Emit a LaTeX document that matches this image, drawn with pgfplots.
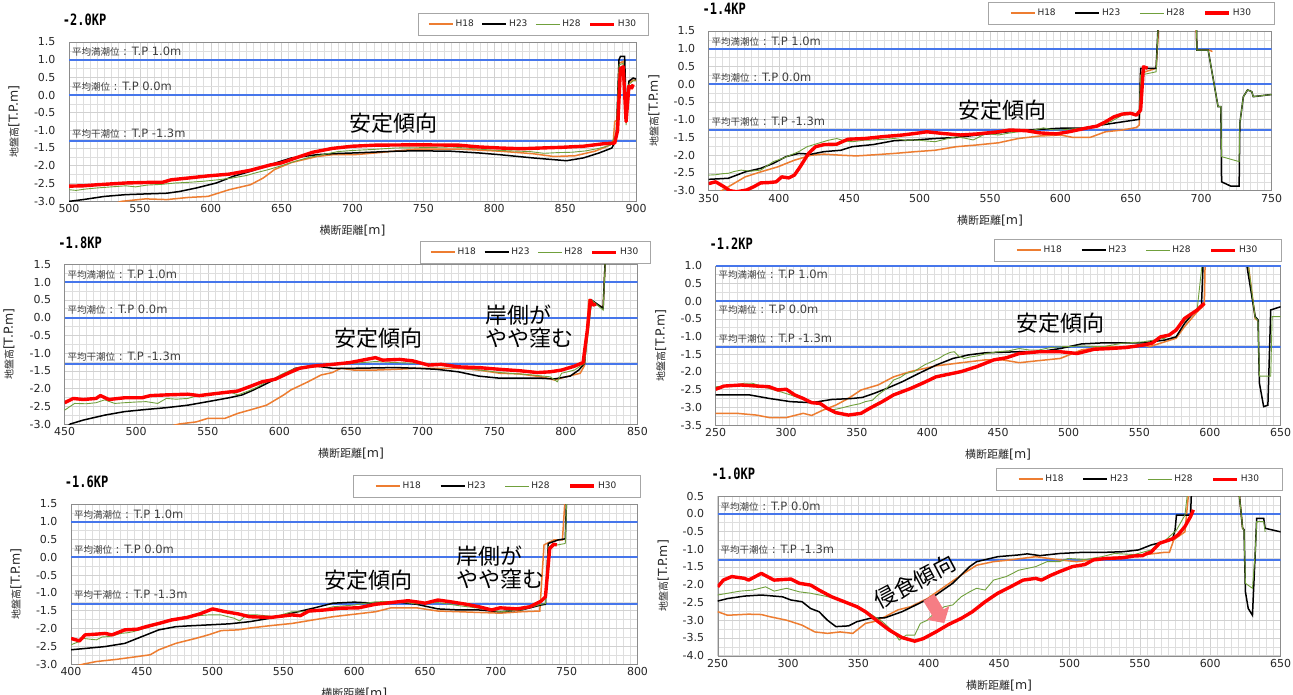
\documentclass[border=0pt]{standalone}
\usepackage{fontspec}
\setmainfont{DejaVu Sans}
\setmonofont{DejaVu Sans Mono}
\newfontfamily\jp{Noto Sans CJK JP}
\usepackage{pgfplots}
\pgfplotsset{compat=1.18}
\usetikzlibrary{arrows.meta}

\newcommand\fs[1]{\fontsize{#1}{#1}\selectfont}
\definecolor{cH18}{RGB}{237,125,49}
\definecolor{cH28}{RGB}{112,160,60}
\definecolor{cH30}{RGB}{255,0,0}
\definecolor{tide}{RGB}{70,118,235}

\pgfplotsset{
  h18/.style={cH18, line width=1.5pt},
  h23/.style={black, line width=1.5pt},
  h28/.style={cH28, line width=0.9pt},
  h30/.style={cH30, line width=3.4pt, line join=round},
  tideline/.style={tide, line width=2pt, forget plot},
  legsep/.style 2 args={legend style={inner xsep=#2, /tikz/every even column/.append style={column sep=#1}}},
  kp/.style={
    scale only axis, anchor=south west,
    axis line style={draw=black!45},
    major tick length=0pt, minor tick length=0pt,
    grid=both,
    major grid style={draw=black!18, line width=0.5pt},
    minor grid style={draw=black!13, line width=0.5pt},
    xtick distance=50, ytick distance=0.5,
    minor x tick num=9, minor y tick num=1,
    /pgf/number format/assume math mode=true,
    tick label style={font=\fs{11}, text=black!85},
    yticklabel style={xshift=-10pt, /pgf/number format/fixed, /pgf/number format/fixed zerofill, /pgf/number format/precision=1},
    xticklabel style={/pgf/number format/1000 sep={}},
    xlabel={{\jp\fs{11}横断距離}{\fs{12.5}[m]}}, ylabel={{\jp\fs{10}地盤高}{\fs{12.5}[T.P.m]}},
    every axis x label/.style={at={(axis description cs:0.5,-0.185)}, anchor=center, text=black!85},
    every axis y label/.style={at={(axis description cs:-0.097,0.5)}, rotate=90, anchor=center, text=black!85},
    title style={at={(axis description cs:-0.017,1.10)}, anchor=west, yscale=1.3, font=\ttfamily\bfseries\fs{12}},
    legend columns=4, legend cell align=left,
    legend image code/.code={\draw[##1] (0pt,0pt) -- (24pt,0pt);},
    legend style={anchor=south east, draw=black!35, fill=white, font=\fs{9}, text=black!85, inner ysep=4.5pt},
  },
}
\newcommand\tidelabel[3]{\node[anchor=west, inner sep=0pt, text=black!75] at (axis cs:#1,#2) {#3};}
\newcommand\tl[2]{{\jp\fs{9.5}#1}{\fs{11.5} : #2}}
\newcommand\note[3]{\node[font=\jp\fs{22}, inner sep=0pt] at (axis cs:#1,#2) {#3};}

\begin{document}
\begin{tikzpicture}
\path[use as bounding box, fill=white] (0pt,0pt) rectangle (1293pt,-695pt);

% ---------------- -2.0KP ----------------
\begin{axis}[kp, at={(69pt,-201pt)}, width=567pt, height=159pt,
  xmin=500, xmax=900, ymin=-3, ymax=1.5, title={-2.0KP},
  legend style={at={(1.021,1.044)}}, legsep={6pt}{9.5pt}]
\addplot[tideline] coordinates {(500,1)(900,1)};
\addplot[tideline] coordinates {(500,0)(900,0)};
\addplot[tideline] coordinates {(500,-1.3)(900,-1.3)};
\addplot[h18] coordinates {(500,-3.3)(530,-3.1)(537,-3.01)(554,-2.94)(569,-2.96)(584,-2.90)(598,-2.87)(613,-2.68)(628,-2.54)(637,-2.35)(645,-2.11)(657,-1.91)(675,-1.74)(686,-1.69)(701,-1.69)(716,-1.64)(745,-1.53)(775,-1.53)(804,-1.59)(827,-1.66)(842,-1.74)(857,-1.72)(871,-1.59)(880,-1.45)(884,-1.3)(885,-0.75)(887,-0.7)(888,0.9)(891,0.95)(893,-0.7)(895,0.35)(898,0.42)(900,0.42)};
\addlegendentry{H18}
\addplot[h23] coordinates {(500,-3.01)(510,-2.96)(525,-2.87)(540,-2.82)(554,-2.80)(569,-2.78)(578,-2.73)(590,-2.63)(604,-2.49)(616,-2.30)(628,-2.16)(642,-1.97)(657,-1.78)(675,-1.69)(686,-1.66)(701,-1.64)(731,-1.59)(745,-1.58)(769,-1.59)(789,-1.64)(804,-1.69)(827,-1.78)(842,-1.83)(851,-1.86)(863,-1.78)(874,-1.64)(883,-1.50)(886,-1.26)(888,1.0)(889,1.09)(892,1.09)(893,-0.41)(895,0.39)(898,0.48)(900,0.45)};
\addlegendentry{H23}
\addplot[h28] coordinates {(500,-2.68)(505,-2.70)(512,-2.66)(520,-2.63)(530,-2.60)(540,-2.57)(547,-2.60)(555,-2.55)(565,-2.53)(575,-2.49)(585,-2.47)(595,-2.44)(605,-2.40)(615,-2.35)(625,-2.28)(632,-2.20)(640,-2.12)(650,-2.0)(660,-1.87)(670,-1.76)(680,-1.68)(690,-1.60)(700,-1.57)(715,-1.54)(730,-1.50)(750,-1.49)(770,-1.47)(780,-1.50)(795,-1.55)(810,-1.58)(825,-1.60)(835,-1.65)(845,-1.63)(855,-1.62)(865,-1.58)(875,-1.50)(882,-1.42)(886,-1.1)(888,0.85)(891,0.9)(893,-0.85)(895,0.3)(898,0.4)(900,0.4)};
\addlegendentry{H28}
\addplot[h30] coordinates {(500,-2.58)(510,-2.57)(520,-2.54)(540,-2.49)(560,-2.47)(566,-2.47)(572,-2.40)(584,-2.35)(598,-2.29)(613,-2.24)(628,-2.13)(642,-1.98)(650,-1.92)(660,-1.78)(672,-1.62)(686,-1.51)(700,-1.45)(716,-1.42)(745,-1.41)(775,-1.42)(789,-1.47)(804,-1.50)(819,-1.52)(833,-1.50)(848,-1.48)(863,-1.45)(877,-1.38)(885,-1.36)(887,-1.0)(889,0.75)(891,0.8)(893,-0.75)(895,0.25)(897,0.2)(898,0.3)};
\addlegendentry{H30}
\tidelabel{502}{1.22}{\tl{平均満潮位}{T.P 1.0m}}
\tidelabel{502}{0.23}{\tl{平均潮位}{T.P 0.0m}}
\tidelabel{502}{-1.08}{\tl{平均干潮位}{T.P -1.3m}}
\note{729}{-0.79}{安定傾向}
\end{axis}

% ---------------- -1.4KP ----------------
\begin{axis}[kp, at={(708.6pt,-190.7pt)}, width=562.9pt, height=159.7pt,
  xmin=350, xmax=750, ymin=-3, ymax=1.5, title={-1.4KP},
  legend style={at={(1.006,1.044)}}, legsep={17pt}{21.5pt}]
\addplot[tideline] coordinates {(350,1)(750,1)};
\addplot[tideline] coordinates {(350,0)(750,0)};
\addplot[tideline] coordinates {(350,-1.3)(750,-1.3)};
\addplot[h18] coordinates {(350,-3.3)(358,-3.03)(364,-2.89)(376,-2.61)(387,-2.47)(399,-2.33)(411,-2.14)(423,-2.00)(432,-1.97)(444,-2.00)(455,-2.02)(467,-1.99)(482,-1.95)(497,-1.90)(511,-1.86)(526,-1.76)(541,-1.71)(556,-1.65)(570,-1.53)(585,-1.46)(600,-1.43)(609,-1.50)(621,-1.50)(632,-1.34)(644,-1.29)(654,-1.22)(656,-1.15)(657,0.31)(668,0.45)(672,3)(695,3)(697,0.96)(706,0.96)(708,0.92)};
\addlegendentry{H18}
\addplot[h23] coordinates {(350,-2.68)(364,-2.65)(376,-2.47)(387,-2.37)(396,-2.23)(405,-2.04)(414,-1.95)(423,-1.97)(432,-1.90)(444,-1.86)(452,-1.76)(467,-1.70)(482,-1.59)(497,-1.57)(511,-1.53)(526,-1.50)(541,-1.43)(556,-1.37)(570,-1.31)(585,-1.27)(600,-1.24)(615,-1.24)(629,-1.15)(644,-1.06)(656,-0.99)(657,0.45)(668,0.45)(671,3)(696,3)(697,0.96)(705,0.96)(712,-0.63)(714,-0.63)(714.5,-2.75)(721,-2.87)(727,-2.87)(727.5,-1.10)(730,-0.35)(733,-0.16)(736,-0.21)(737,-0.35)(750,-0.29)};
\addlegendentry{H23}
\addplot[h28] coordinates {(350,-2.56)(355,-2.55)(360,-2.52)(364,-2.51)(368,-2.46)(373,-2.42)(380,-2.45)(387,-2.42)(396,-2.18)(402,-2.10)(408,-2.00)(414,-1.90)(420,-1.76)(425,-1.70)(429,-1.65)(435,-1.58)(441,-1.53)(447,-1.60)(452,-1.62)(460,-1.58)(467,-1.57)(475,-1.55)(482,-1.53)(490,-1.58)(497,-1.57)(505,-1.60)(511,-1.62)(518,-1.55)(526,-1.48)(532,-1.52)(538,-1.57)(544,-1.45)(547,-1.39)(556,-1.43)(563,-1.38)(570,-1.34)(580,-1.30)(588,-1.23)(594,-1.28)(600,-1.29)(608,-1.26)(615,-1.24)(622,-1.22)(629,-1.15)(636,-1.05)(644,-0.87)(650,-0.85)(656,-0.82)(657,0.26)(662,0.30)(668,0.35)(671,3)(696,3)(697,0.96)(705,0.96)(712,-0.63)(714,-0.63)(714.5,-2.04)(727,-2.18)(727.5,-1.10)(730,-0.35)(733,-0.16)(736,-0.21)(737,-0.35)(750,-0.29)};
\addlegendentry{H28}
\addplot[h30] coordinates {(350,-2.80)(355,-2.75)(361,-2.89)(365,-3.0)(370,-3.03)(377,-2.98)(382,-2.89)(387,-2.78)(393,-2.77)(398,-2.75)(402,-2.61)(407,-2.64)(411,-2.56)(415,-2.33)(421,-1.95)(426,-1.76)(432,-1.70)(441,-1.69)(449,-1.55)(461,-1.53)(473,-1.48)(488,-1.43)(500,-1.37)(505,-1.34)(517,-1.39)(529,-1.43)(541,-1.40)(556,-1.34)(564,-1.29)(576,-1.31)(585,-1.37)(597,-1.40)(606,-1.34)(618,-1.24)(626,-1.18)(632,-1.06)(638,-0.92)(644,-0.84)(650,-0.82)(654,-0.87)(657,-0.73)(659,0.49)(662,0.45)};
\addlegendentry{H30}
\tidelabel{352}{1.2}{\tl{平均満潮位}{T.P 1.0m}}
\tidelabel{352}{0.19}{\tl{平均潮位}{T.P 0.0m}}
\tidelabel{352}{-1.06}{\tl{平均干潮位}{T.P -1.3m}}
\note{558.6}{-0.73}{安定傾向}
\end{axis}

% ---------------- -1.8KP ----------------
\begin{axis}[kp, at={(64.6pt,-424pt)}, width=572.9pt, height=159.7pt,
  xmin=450, xmax=850, ymin=-3, ymax=1.5, title={-1.8KP},
  legend style={at={(1.0218,1.008)}}, legsep={6pt}{9.5pt}]
\addplot[tideline] coordinates {(450,1)(850,1)};
\addplot[tideline] coordinates {(450,0)(850,0)};
\addplot[tideline] coordinates {(450,-1.3)(850,-1.3)};
\addplot[h18] coordinates {(450,-3.5)(520,-3.1)(530,-3.0)(542,-2.94)(550,-2.84)(562,-2.84)(571,-2.70)(579,-2.61)(591,-2.47)(603,-2.18)(608,-2.04)(620,-1.81)(629,-1.62)(637,-1.55)(643,-1.43)(652,-1.48)(667,-1.48)(681,-1.46)(696,-1.43)(725,-1.43)(739,-1.48)(754,-1.57)(768,-1.59)(783,-1.67)(792,-1.76)(800,-1.67)(810,-1.57)(813,-1.35)(816,0.49)(820,0.40)(826,0.28)(829,3)};
\addlegendentry{H18}
\addplot[h23] coordinates {(450,-3.15)(454,-3.0)(463,-2.89)(478,-2.75)(492,-2.65)(507,-2.59)(521,-2.54)(536,-2.47)(550,-2.37)(565,-2.26)(574,-2.18)(582,-2.04)(591,-1.86)(603,-1.62)(611,-1.43)(626,-1.37)(637,-1.43)(652,-1.43)(681,-1.41)(696,-1.43)(710,-1.46)(725,-1.53)(739,-1.65)(754,-1.71)(768,-1.71)(783,-1.71)(792,-1.73)(803,-1.65)(809,-1.48)(813,-1.29)(815,-0.35)(818,0.49)(826,0.26)(829,3)};
\addlegendentry{H23}
\addplot[h28] coordinates {(450,-2.61)(457,-2.42)(465,-2.43)(472,-2.40)(478,-2.32)(485,-2.42)(492,-2.40)(500,-2.38)(507,-2.37)(515,-2.42)(521,-2.28)(528,-2.30)(536,-2.28)(543,-2.20)(550,-2.14)(558,-2.12)(565,-2.09)(571,-2.18)(579,-2.06)(585,-1.95)(591,-1.81)(597,-1.70)(603,-1.57)(608,-1.48)(614,-1.40)(625,-1.38)(637,-1.34)(652,-1.29)(667,-1.24)(681,-1.27)(696,-1.29)(710,-1.34)(725,-1.40)(740,-1.48)(754,-1.55)(777,-1.62)(789,-1.67)(794,-1.81)(797,-1.57)(806,-1.48)(813,-1.29)(816,-0.3)(818,0.49)(826,0.21)(829,3)};
\addlegendentry{H28}
\addplot[h30] coordinates {(450,-2.40)(456,-2.28)(463,-2.31)(472,-2.28)(475,-2.20)(481,-2.31)(492,-2.26)(504,-2.26)(510,-2.20)(521,-2.18)(536,-2.16)(544,-2.20)(556,-2.14)(571,-2.07)(579,-1.95)(588,-1.81)(597,-1.74)(606,-1.57)(614,-1.43)(623,-1.37)(637,-1.32)(649,-1.27)(658,-1.20)(667,-1.13)(672,-1.20)(684,-1.18)(693,-1.22)(704,-1.34)(713,-1.32)(725,-1.39)(739,-1.41)(754,-1.46)(768,-1.50)(780,-1.55)(789,-1.53)(797,-1.48)(806,-1.37)(812,-1.27)(815,-0.35)(817,0.49)(819,0.35)(821,0.38)};
\addlegendentry{H30}
\tidelabel{452}{1.22}{\tl{平均満潮位}{T.P 1.0m}}
\tidelabel{452}{0.21}{\tl{平均潮位}{T.P 0.0m}}
\tidelabel{452}{-1.10}{\tl{平均干潮位}{T.P -1.3m}}
\note{669.5}{-0.59}{安定傾向}
\node[anchor=west, align=left, inner sep=0pt, font=\jp\fontsize{22}{23.5}\selectfont] at (axis cs:743.6,-0.26) {岸側が\\やや窪む};
\end{axis}

% ---------------- -1.2KP ----------------
\begin{axis}[kp, at={(715.6pt,-425pt)}, width=565pt, height=159.3pt,
  xmin=250, xmax=650, ymin=-3.5, ymax=1.0, title={-1.2KP},
  legend style={at={(1.0007,1.0295)}}, legsep={17pt}{21.5pt},
  extra description/.code={\draw[tide, line width=2pt] (rel axis cs:0,1) -- (rel axis cs:1,1);}]
\addplot[tideline] coordinates {(250,0)(650,0)};
\addplot[tideline] coordinates {(250,-1.3)(650,-1.3)};
\addplot[h18] coordinates {(250,-3.17)(265,-3.17)(279,-3.22)(288,-3.29)(300,-3.29)(312,-3.17)(318,-3.23)(326,-3.08)(335,-2.94)(344,-2.75)(353,-2.51)(365,-2.37)(376,-2.14)(388,-1.99)(406,-1.83)(424,-1.74)(441,-1.66)(453,-1.66)(465,-1.74)(479,-1.68)(494,-1.62)(509,-1.38)(524,-1.29)(538,-1.29)(553,-1.24)(557,-1.29)(568,-1.15)(576,-1.05)(582,-0.72)(591,-0.30)(596,-0.11)(597,2)(624,2)(632,-0.49)(634,-0.55)};
\addlegendentry{H18}
\addplot[h23] coordinates {(250,-2.65)(274,-2.65)(288,-2.75)(303,-2.84)(318,-2.87)(332,-2.78)(347,-2.75)(354,-2.72)(362,-2.61)(371,-2.47)(382,-2.28)(394,-2.04)(406,-1.81)(418,-1.62)(429,-1.52)(441,-1.46)(465,-1.43)(479,-1.43)(494,-1.34)(509,-1.21)(524,-1.18)(553,-1.18)(568,-1.10)(576,-1.01)(582,-0.63)(588,-0.35)(594,-0.11)(596,2)(622,2)(632,-0.44)(634,-0.53)(635,-2.32)(638,-2.98)(641,-2.94)(643,-0.25)(650,-0.16)};
\addlegendentry{H23}
\addplot[h28] coordinates {(250,-2.42)(258,-2.40)(265,-2.37)(270,-2.32)(276,-2.32)(282,-2.40)(288,-2.47)(295,-2.55)(303,-2.65)(310,-2.75)(318,-2.84)(325,-2.95)(332,-3.08)(338,-3.03)(347,-2.94)(352,-2.90)(356,-2.84)(361,-2.80)(365,-2.65)(371,-2.47)(376,-2.23)(381,-2.15)(385,-2.04)(390,-2.0)(394,-1.90)(398,-1.80)(403,-1.71)(408,-1.62)(412,-1.52)(416,-1.45)(419,-1.43)(422,-1.55)(426,-1.62)(430,-1.58)(435,-1.55)(442,-1.48)(450,-1.43)(458,-1.40)(465,-1.34)(472,-1.38)(479,-1.38)(486,-1.32)(494,-1.29)(509,-1.27)(524,-1.29)(538,-1.19)(553,-1.15)(568,-1.05)(579,-0.68)(591,-0.21)(597,2)(624,2)(632,-0.47)(634,-0.55)(635,-2.12)(643,-2.12)(644,-0.44)(650,-0.44)};
\addlegendentry{H28}
\addplot[h30] coordinates {(250,-2.49)(256,-2.40)(268,-2.37)(279,-2.40)(288,-2.42)(294,-2.51)(300,-2.49)(306,-2.65)(312,-2.75)(318,-2.87)(324,-2.89)(329,-3.03)(335,-3.15)(344,-3.22)(353,-3.17)(359,-3.03)(368,-2.84)(376,-2.65)(388,-2.47)(397,-2.31)(406,-2.14)(412,-2.09)(424,-1.99)(435,-1.85)(447,-1.66)(456,-1.60)(465,-1.48)(479,-1.43)(494,-1.43)(506,-1.48)(518,-1.36)(529,-1.34)(541,-1.31)(553,-1.24)(559,-1.19)(565,-1.01)(571,-0.96)(576,-0.82)(582,-0.49)(591,-0.25)(596,-0.06)};
\addlegendentry{H30}
\tidelabel{252}{0.74}{\tl{平均満潮位}{T.P 1.0m}}
\tidelabel{252}{-0.25}{\tl{平均潮位}{T.P 0.0m}}
\tidelabel{252}{-1.05}{\tl{平均干潮位}{T.P -1.3m}}
\note{494}{-0.63}{安定傾向}
\end{axis}

% ---------------- -1.6KP ----------------
\begin{axis}[kp, at={(71pt,-664pt)}, width=566.5pt, height=160pt,
  xmin=400, xmax=800, ymin=-3, ymax=1.5, title={-1.6KP},
  legend style={at={(1.0044,1.044)}}, legsep={17pt}{21.5pt}]
\addplot[tideline] coordinates {(400,1)(800,1)};
\addplot[tideline] coordinates {(400,0)(800,0)};
\addplot[tideline] coordinates {(400,-1.3)(800,-1.3)};
\addplot[h18] coordinates {(400,-3.1)(409,-3.0)(418,-2.93)(432,-2.87)(447,-2.79)(456,-2.74)(462,-2.60)(474,-2.42)(488,-2.28)(497,-2.18)(506,-2.06)(518,-2.04)(526,-1.99)(541,-1.92)(556,-1.86)(571,-1.76)(585,-1.67)(600,-1.60)(615,-1.53)(626,-1.42)(644,-1.42)(659,-1.51)(674,-1.53)(688,-1.55)(703,-1.57)(718,-1.53)(731,-1.51)(734,0.35)(741,0.49)(747,0.49)(751,3)};
\addlegendentry{H18}
\addplot[h23] coordinates {(400,-2.60)(424,-2.51)(438,-2.42)(450,-2.23)(462,-2.04)(474,-1.95)(482,-1.93)(497,-1.90)(512,-1.87)(526,-1.81)(541,-1.71)(556,-1.57)(571,-1.43)(585,-1.29)(600,-1.26)(615,-1.29)(629,-1.25)(644,-1.32)(659,-1.45)(674,-1.48)(688,-1.48)(703,-1.53)(718,-1.48)(732,-1.34)(735,-1.32)(737,0.39)(744,0.49)(749,0.52)(751,3)};
\addlegendentry{H23}
\addplot[h28] coordinates {(400,-2.46)(405,-2.38)(409,-2.28)(413,-2.30)(418,-2.32)(422,-2.24)(426,-2.23)(430,-2.20)(435,-2.14)(440,-2.12)(444,-2.09)(450,-2.02)(456,-1.95)(462,-1.88)(468,-1.81)(475,-1.75)(482,-1.67)(490,-1.64)(497,-1.62)(506,-1.62)(515,-1.71)(519,-1.79)(524,-1.62)(532,-1.62)(544,-1.67)(556,-1.53)(571,-1.53)(585,-1.39)(600,-1.34)(615,-1.25)(629,-1.24)(644,-1.31)(659,-1.27)(674,-1.36)(688,-1.43)(703,-1.53)(718,-1.48)(732,-1.32)(735,-1.3)(737,0.30)(749,0.39)(751,3)};
\addlegendentry{H28}
\addplot[h30] coordinates {(400,-2.28)(406,-2.35)(410,-2.18)(418,-2.16)(424,-2.14)(429,-2.18)(438,-2.04)(447,-2.02)(453,-1.95)(462,-1.86)(471,-1.76)(482,-1.69)(491,-1.59)(500,-1.45)(509,-1.53)(518,-1.59)(526,-1.67)(541,-1.69)(556,-1.62)(562,-1.64)(568,-1.51)(579,-1.48)(591,-1.43)(603,-1.42)(615,-1.32)(629,-1.26)(638,-1.22)(647,-1.27)(650,-1.29)(659,-1.20)(668,-1.25)(679,-1.32)(688,-1.39)(697,-1.48)(703,-1.42)(715,-1.45)(724,-1.39)(732,-1.23)(735,-1.11)(738,0.25)(741,0.37)(743,0.35)};
\addlegendentry{H30}
\tidelabel{402}{1.19}{\tl{平均満潮位}{T.P 1.0m}}
\tidelabel{402}{0.21}{\tl{平均潮位}{T.P 0.0m}}
\tidelabel{402}{-1.04}{\tl{平均干潮位}{T.P -1.3m}}
\note{610}{-0.64}{安定傾向}
\node[anchor=west, align=left, inner sep=0pt, font=\jp\fontsize{22}{23.5}\selectfont] at (axis cs:672,-0.285) {岸側が\\やや窪む};
\end{axis}

% ---------------- -1.0KP ----------------
\begin{axis}[kp, at={(717.7pt,-655.7pt)}, width=562.9pt, height=159.7pt,
  xmin=250, xmax=650, ymin=-4, ymax=0.5, title={-1.0KP},
  legend style={at={(1.004,1.0376)}}, legsep={17pt}{21.5pt}]
\addplot[tideline] coordinates {(250,0)(650,0)};
\addplot[tideline] coordinates {(250,-1.3)(650,-1.3)};
\addplot[h18] coordinates {(250,-2.76)(257,-2.86)(272,-2.83)(281,-2.84)(287,-2.90)(299,-3.00)(310,-3.14)(319,-3.33)(328,-3.37)(337,-3.33)(346,-3.37)(355,-3.09)(361,-3.04)(369,-2.90)(378,-2.71)(387,-2.62)(399,-2.39)(411,-2.06)(423,-1.73)(434,-1.45)(446,-1.35)(458,-1.30)(476,-1.21)(493,-1.30)(505,-1.35)(517,-1.30)(538,-1.21)(552,-1.16)(567,-1.09)(571,-1.09)(574,-0.74)(577,-0.65)(582,-0.51)(588,2)(617,2)(623,-0.41)(624,-0.45)};
\addlegendentry{H18}
\addplot[h23] coordinates {(250,-2.46)(257,-2.39)(269,-2.32)(281,-2.29)(296,-2.34)(302,-2.43)(310,-2.48)(316,-2.67)(322,-2.76)(328,-3.00)(334,-3.18)(343,-3.16)(349,-3.04)(358,-2.95)(369,-2.93)(381,-2.76)(393,-2.53)(405,-2.29)(417,-1.96)(429,-1.49)(434,-1.35)(449,-1.21)(464,-1.16)(470,-1.13)(479,-1.18)(493,-1.12)(508,-1.09)(523,-1.09)(538,-1.07)(549,-1.02)(558,-0.88)(567,-0.79)(573,-0.74)(575,-0.46)(576,-0.04)(582,-0.04)(586,-0.04)(588,2)(617,2)(623,-0.41)(624,-0.45)(625,-2.20)(627,-2.67)(630,-2.86)(632,-1.07)(633,-0.13)(638,-0.13)(639,-0.41)(650,-0.51)};
\addlegendentry{H23}
\addplot[h28] coordinates {(250,-2.29)(257,-2.24)(266,-2.18)(275,-2.15)(284,-2.06)(290,-2.18)(299,-2.10)(308,-2.20)(316,-2.24)(325,-2.31)(334,-2.39)(346,-2.57)(358,-2.81)(367,-3.04)(375,-3.33)(379,-3.56)(384,-3.42)(390,-3.42)(394,-3.09)(399,-3.00)(405,-2.76)(411,-2.62)(417,-2.57)(423,-2.34)(429,-2.20)(434,-2.10)(440,-2.15)(446,-1.87)(455,-1.77)(464,-1.59)(476,-1.49)(484,-1.35)(493,-1.35)(499,-1.26)(511,-1.29)(523,-1.21)(532,-1.12)(546,-1.15)(558,-1.02)(567,-0.79)(576,-0.46)(582,-0.04)(588,2)(617,2)(623,-0.41)(624,-0.45)(625,-1.96)(630,-2.10)(632,-1.07)(633,-0.22)(638,-0.22)(639,-0.51)};
\addlegendentry{H28}
\addplot[h30] coordinates {(250,-2.06)(254,-1.87)(260,-1.77)(269,-1.82)(272,-1.87)(281,-1.68)(290,-1.87)(302,-1.84)(308,-1.96)(316,-2.01)(322,-2.15)(331,-2.34)(340,-2.48)(349,-2.62)(355,-2.76)(364,-3.04)(372,-3.28)(381,-3.49)(390,-3.59)(396,-3.52)(405,-3.33)(414,-3.12)(423,-2.95)(431,-2.76)(440,-2.48)(449,-2.24)(458,-2.06)(467,-1.87)(476,-1.82)(480,-1.87)(487,-1.73)(493,-1.63)(502,-1.49)(511,-1.43)(517,-1.30)(526,-1.26)(538,-1.24)(546,-1.19)(552,-1.18)(555,-1.12)(558,-1.08)(564,-0.83)(573,-0.71)(577,-0.60)(582,-0.36)(586,-0.08)(588,0.11)};
\addlegendentry{H30}
\tidelabel{252}{0.2}{\tl{平均潮位}{T.P 0.0m}}
\tidelabel{252}{-1.02}{\tl{平均干潮位}{T.P -1.3m}}
\node[font=\jp\fs{22}, inner sep=0pt, rotate=28] at (axis cs:390,-1.92) {侵食傾向};
\draw[-{Triangle[width=26pt,length=12pt]}, line width=13pt, color={rgb,255:red,246;green,125;blue,132}]
  (axis cs:400,-2.36) -- (axis cs:411,-3.08);
\end{axis}
\end{tikzpicture}
\end{document}
